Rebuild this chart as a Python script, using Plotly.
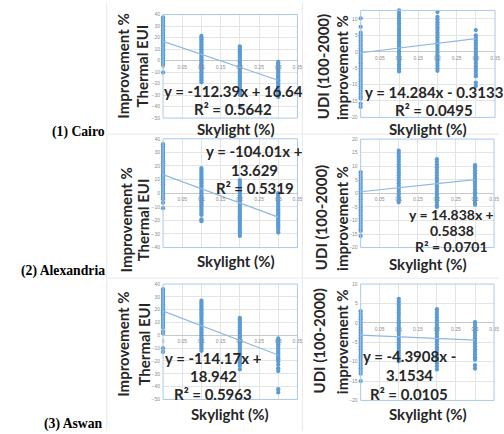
import plotly.graph_objects as go

# ---------------- data ----------------
skylight = [0.0, 0.1, 0.2, 0.3]
x_ticks = [0, 0.05, 0.1, 0.15, 0.2, 0.25, 0.3, 0.35]
x_ticktext = ["0", "0.05", "0.1", "0.15", "0.2", "0.25", "0.3", "0.35"]

cities = ["(1) Cairo", "(2) Alexandria", "(3) Aswan"]

# Cairo - Thermal EUI improvement %
cairo_eui = [
    [37.6, 36.2, 34.9, 33.5, 32.0, 30.6, 29.1, 27.7, 26.3, 24.8, 23.4, 22.0, 20.5, 19.1, 17.6, 16.2, 14.8, 13.3,
     11.9, 10.4, 9.0, 7.6, 6.1, 4.7, 3.2, 1.8, 0.4, -1.1, -2.5, -3.9, -10.3],
    [21.4, 20.0, 18.6, 17.1, 15.7, 14.2, 12.8, 11.3, 9.9, 8.5, 7.0, 5.6, 4.1, 2.7, 1.2, -0.2, -1.6, -3.1, -4.5,
     -6.0, -7.4, -8.9, -10.3, -11.7, -13.2, -14.6, -16.1, -17.5, -18.9],
    [12.3, 10.9, 9.4, 8.0, 6.5, 5.1, 3.6, 2.2, 0.7, -0.7, -2.2, -3.6, -5.1, -6.5, -8.0, -9.4, -10.9, -12.3, -13.8,
     -15.2, -16.7, -18.1, -19.6, -21.0, -22.5, -23.9, -25.4, -26.8, -28.3, -29.7, -39.4],
    [-1.2, -2.6, -4.1, -5.5, -7.0, -8.4, -9.9, -11.3, -12.8, -14.2, -15.7, -17.1, -18.6, -20.0, -21.5, -22.9,
     -24.4, -25.8, -27.3, -28.7, -30.2, -31.6],
]
# Cairo - UDI (100-2000) improvement %
cairo_udi = [
    [10.2, 7.6, 5.8, 5.0, 4.3, 3.5, 2.7, 1.9, 1.1, 0.4, -0.4, -1.2, -2.0, -2.8, -3.5, -4.3, -5.1, -5.9, -6.7, -7.4,
     -8.2, -9.0, -9.8, -10.6, -11.3, -12.1, -12.9, -13.7, -14.3, -15.8, -16.8],
    [12.6, 11.8, 11.0, 10.3, 9.5, 8.7, 7.9, 7.1, 6.4, 5.6, 4.8, 4.0, 3.2, 2.5, 1.7, 0.9, 0.1, -0.6, -1.4, -2.2,
     -3.0, -3.8, -4.5, -5.3, -6.0],
    [12.1, 10.6, 9.8, 9.0, 8.3, 7.5, 6.7, 5.9, 5.1, 4.4, 3.6, 2.8, 2.0, 1.2, 0.5, -0.3, -1.1, -1.9, -2.7, -3.4,
     -4.2, -5.0, -5.8],
    [6.6, 5.0, 4.2, 3.4, 2.6, 1.9, 1.1, 0.3, -0.5, -1.3, -2.0, -2.8, -3.6, -4.4, -5.2, -5.9, -6.7, -7.5, -9.4,
     -10.4],
]
# Alexandria - Thermal EUI improvement %
alex_eui = [
    [36.0, 34.6, 33.2, 31.8, 30.4, 29.0, 27.6, 26.2, 24.8, 23.4, 22.0, 20.6, 19.2, 17.8, 16.4, 15.0, 13.6, 12.2,
     10.8, 9.4, 8.0, 6.6, 5.2, 3.8, 2.4, 1.0, -0.4, -1.8, -3.2, -4.4, -7.1, -11.0],
    [18.5, 17.1, 15.7, 14.3, 12.9, 11.5, 10.1, 8.7, 7.3, 5.9, 4.5, 3.1, 1.7, 0.3, -1.1, -2.5, -3.9, -5.3, -6.7,
     -8.1, -9.5, -10.9, -12.3, -13.7, -15.1, -16.0, -19.2, -20.6],
    [9.6, 8.2, 6.8, 5.4, 4.0, 2.6, 1.2, -0.2, -1.6, -3.0, -4.4, -5.8, -7.2, -8.6, -10.0, -11.4, -12.8, -14.2,
     -15.6, -17.0, -18.4, -19.8, -21.2, -22.6, -24.0, -25.4, -26.8, -28.2, -29.6, -31.4],
    [0.0, -1.4, -2.8, -4.2, -5.6, -7.0, -8.4, -9.8, -11.2, -12.6, -14.0, -15.4, -16.8, -18.2, -19.6, -21.0, -22.4,
     -23.8, -25.0, -27.0, -29.0],
]
# Alexandria - UDI (100-2000) improvement %
alex_udi = [
    [7.8, 6.8, 5.8, 4.8, 3.8, 2.8, 1.8, 0.8, -0.2, -1.2, -2.2, -3.2, -4.2, -5.2, -6.2, -7.2, -8.2, -9.2, -10.2,
     -11.2, -12.2, -13.2, -13.9, -15.7],
    [15.7, 14.7, 13.7, 12.7, 11.7, 10.7, 9.7, 8.7, 7.7, 6.7, 5.7, 4.7, 3.7, 2.7, 1.7, 0.7, -0.3, -1.3, -2.3, -3.3],
    [12.6, 11.6, 10.6, 9.6, 8.6, 7.6, 6.6, 5.6, 4.6, 3.6, 2.6, 1.6, 0.6, -0.4, -1.4, -2.4, -3.4, -4.4, -5.0],
    [10.4, 9.4, 8.4, 7.4, 6.4, 5.4, 4.4, 3.4, 2.4, 1.4, 0.4, -0.6, -1.6, -2.6, -3.6, -4.2],
]
# Aswan - Thermal EUI improvement %
aswan_eui = [
    [36.0, 34.5, 33.0, 31.5, 30.0, 28.5, 27.0, 25.5, 24.0, 22.5, 21.0, 19.5, 18.0, 16.5, 15.0, 13.5, 12.0, 10.5,
     9.0, 7.5, 6.0, 3.0, 1.5, -10.0, -13.0],
    [27.0, 25.5, 24.0, 22.5, 21.0, 19.5, 18.0, 16.5, 15.0, 13.5, 12.0, 10.5, 9.0, 7.5, 6.0, 4.5, 3.0, 1.5, 0.0,
     -1.5, -3.0, -4.5, -6.0, -7.5, -9.0, -10.5, -12.0],
    [13.6, 12.1, 10.6, 9.1, 7.6, 6.1, 4.6, 3.1, 1.6, 0.1, -1.4, -2.9, -4.4, -5.9, -7.4, -8.9, -10.4, -11.9,
     -13.4, -14.9, -16.4, -17.9, -19.4, -20.9, -22.4, -23.9, -26.6],
    [-2.4, -3.9, -5.4, -6.9, -8.4, -9.9, -11.4, -12.9, -14.4, -15.9, -17.4, -18.6, -20.3, -22.8, -25.6, -27.9,
     -42.0, -44.5],
]
# Aswan - UDI (100-2000) improvement %
aswan_udi = [
    [3.0, 2.3, 1.6, 0.9, 0.2, -0.5, -1.2, -1.9, -2.6, -3.3, -4.0, -4.7, -5.4, -6.1, -6.8, -7.5, -8.2, -8.9, -9.6,
     -10.3, -11.0, -11.7, -12.4, -13.1, -15.0],
    [6.2, 5.5, 4.8, 4.1, 3.4, 2.7, 2.0, 1.3, 0.6, -0.1, -0.8, -1.5, -2.2, -2.9, -3.6, -4.3, -5.0, -5.7, -6.4,
     -7.1, -7.8, -8.5, -9.2, -9.9],
    [3.5, 2.8, 2.1, 1.4, 0.7, 0.0, -0.7, -1.4, -2.1, -2.8, -3.5, -4.2, -4.9, -5.6, -6.3, -7.0, -7.7, -8.4, -9.1,
     -9.8, -10.5, -11.2, -12.0],
    [0.2, -0.5, -1.2, -1.9, -2.6, -3.3, -4.0, -4.7, -5.4, -6.1, -6.8, -7.5, -8.2, -8.9, -9.5, -10.9, -11.8],
]

# trendline coefficients (slope, intercept) and R^2 as printed
slopes = [-112.39, 14.284, -104.01, 14.838, -114.17, -4.3908]
intercepts = [16.64, -0.3133, 13.629, 0.5838, 18.942, -3.1534]
eq_lines = [
    ["y = -112.39x + 16.64", "R² = 0.5642"],
    ["y = 14.284x - 0.3133", "R² = 0.0495"],
    ["y = -104.01x +", "13.629", "R² = 0.5319"],
    ["y = 14.838x +", "0.5838", "R² = 0.0701"],
    ["y = -114.17x +", "18.942", "R² = 0.5963"],
    ["y = -4.3908x -", "3.1534", "R² = 0.0105"],
]
series = [cairo_eui, cairo_udi, alex_eui, alex_udi, aswan_eui, aswan_udi]
y_ranges = [[-50, 40], [-20, 12.6], [-40, 40], [-20, 20], [-50, 40], [-20, 10]]
y_ticks = [list(range(-50, 41, 10)), list(range(-20, 11, 5)), list(range(-40, 41, 10)),
           list(range(-20, 21, 5)), list(range(-50, 41, 10)), list(range(-20, 11, 5))]
y_title_lines = [["Improvement %", "Thermal EUI"], ["UDI (100-2000)", "improvement %"]] * 3

# ---------------- layout geometry (pixels) ----------------
W, H = 504, 434
def fx(px): return px / W
def fy(py): return 1 - py / H

# plot areas: (left, right, top, bottom) in px
areas = [
    (164, 300, 11.7, 116.7),
    (364, 500, 7.5, 116.0),
    (164, 300, 137.7, 248.0),
    (364, 499, 138.0, 248.0),
    (164, 300, 285.0, 402.0),
    (364, 499, 285.0, 403.0),
]
# y-title line centres (x1, x2, ycentre)
ytitle_pos = [(124, 143, 64), (326, 345, 65), (126, 144, 220), (324, 345, 218), (124, 145, 346), (322, 345, 343)]
# x-title centre
xtitle_pos = [(238, 128), (432, 128), (238, 262), (432, 265), (232, 417), (432, 417)]
# equation line positions (x centre, y for each line) and font size
eq_pos = [
    (235, [89, 107], 15),
    (438, [90, 108], 15),
    (257, [150, 169, 188], 15),
    (456, [214, 230.5, 247], 14),
    (215, [360, 378, 396], 15),
    (413, [358, 377, 396], 15),
]
row_label_pos = [(107, 131), (107, 272), (105, 427)]

BLUE = "#5b9bd5"
BORDER = "#a9c9e8"
GRID = "#e4e4e4"
TICKC = "#8c8c8c"
TFONT = dict(family="Lato", size=15, color="#262626", weight="bold")

fig = go.Figure()
annotations = []
shapes = []

for i in range(6):
    n = i + 1
    xa = "x" if n == 1 else f"x{n}"
    ya = "y" if n == 1 else f"y{n}"
    left, right, top, bottom = areas[i]
    yr = y_ranges[i]
    # scatter columns
    xs, ys = [], []
    for sk, col in zip(skylight, series[i]):
        xs += [sk] * len(col)
        ys += col
    fig.add_trace(go.Scatter(x=xs, y=ys, mode="markers", xaxis=xa, yaxis=ya,
                             marker=dict(color=BLUE, size=4.3, line=dict(width=0)),
                             cliponaxis=False, showlegend=False, hoverinfo="skip"))
    # trendline
    tx = [skylight[0], skylight[-1]]
    ty = [slopes[i] * v + intercepts[i] for v in tx]
    fig.add_trace(go.Scatter(x=tx, y=ty, mode="lines", xaxis=xa, yaxis=ya,
                             line=dict(color="#8fb8e0", width=1.2),
                             showlegend=False, hoverinfo="skip"))
    # position of y=0 in paper coordinates
    zero_frac = (0 - yr[0]) / (yr[1] - yr[0])
    dom_y = [fy(bottom), fy(top)]
    pos0 = dom_y[0] + zero_frac * (dom_y[1] - dom_y[0])
    fig.layout[f"xaxis{n if n > 1 else ''}"] = dict(
        domain=[fx(left), fx(right)], range=[0, 0.35], anchor="free", position=pos0,
        tickvals=x_ticks, ticktext=x_ticktext, tickfont=dict(size=5, color=TICKC, family="Liberation Sans"),
        showgrid=True, gridcolor=GRID, gridwidth=0.8, zeroline=False, showline=False, ticks="",
        ticklabelstandoff=2, fixedrange=True)
    fig.layout[f"yaxis{n if n > 1 else ''}"] = dict(
        domain=dom_y, range=yr, anchor=xa,
        tickvals=y_ticks[i], tickfont=dict(size=5, color=TICKC, family="Liberation Sans"),
        showgrid=True, gridcolor=GRID, gridwidth=0.8, zeroline=True, zerolinecolor="#c8c8c8",
        zerolinewidth=1, showline=False, ticks="", ticklabelstandoff=2, fixedrange=True)
    # plot area border
    shapes.append(dict(type="rect", xref=f"{xa} domain", yref=f"{ya} domain", x0=0, x1=1, y0=0, y1=1,
                       line=dict(color=BORDER, width=1)))
    # y title (two lines, rotated)
    x1, x2, yc = ytitle_pos[i]
    for txt, xc in zip(y_title_lines[i], (x1, x2)):
        annotations.append(dict(text=txt, xref="paper", yref="paper", x=fx(xc), y=fy(yc),
                                xanchor="center", yanchor="middle", textangle=-90, showarrow=False,
                                font=TFONT))
    # x title
    xc, yc = xtitle_pos[i]
    annotations.append(dict(text="Skylight (%)", xref="paper", yref="paper", x=fx(xc), y=fy(yc),
                            xanchor="center", yanchor="middle", showarrow=False, font=TFONT))
    # equation + R2
    ex, eys, efs = eq_pos[i]
    for txt, ey in zip(eq_lines[i], eys):
        annotations.append(dict(text=txt, xref="paper", yref="paper", x=fx(ex), y=fy(ey),
                                xanchor="center", yanchor="middle", showarrow=False,
                                font=dict(TFONT, size=efs)))

for lab, (lx, ly) in zip(cities, row_label_pos):
    annotations.append(dict(text=lab, xref="paper", yref="paper", x=fx(lx), y=fy(ly),
                            xanchor="right", yanchor="middle", showarrow=False,
                            font=dict(family="Liberation Serif", size=13.7, color="black", weight="bold")))

# faint separators between the chart tiles
SEP = "#e8e8e8"
for (x0, y0, x1, y1) in [(107, 0, 107, 434), (305, 0, 305, 434), (108, 133, 504, 133), (108, 279, 504, 279)]:
    shapes.append(dict(type="line", xref="paper", yref="paper", x0=fx(x0), x1=fx(x1), y0=fy(y0), y1=fy(y1),
                       line=dict(color=SEP, width=1), layer="below"))

fig.update_layout(width=W, height=H, margin=dict(l=0, r=0, t=0, b=0),
                  paper_bgcolor="white", plot_bgcolor="white",
                  annotations=annotations, shapes=shapes, showlegend=False)

fig.write_html("out.html")
